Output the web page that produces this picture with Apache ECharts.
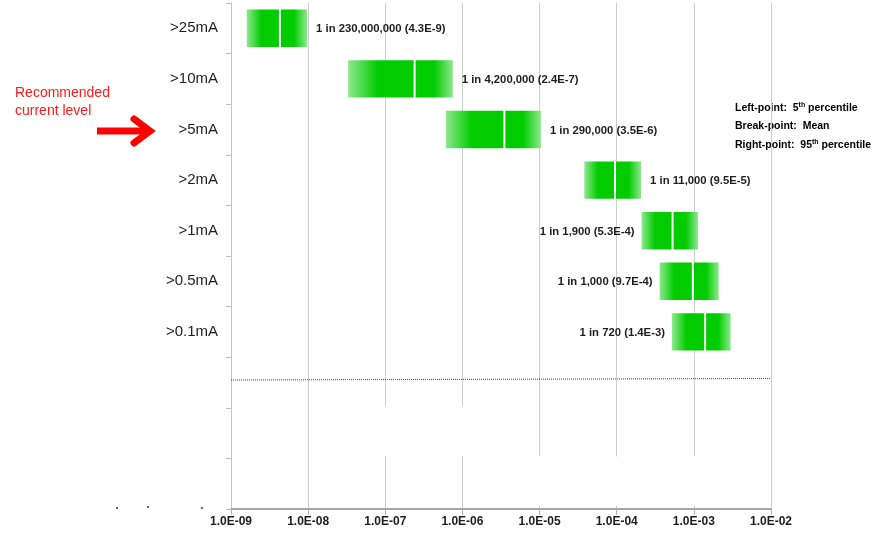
<!DOCTYPE html>
<html><head><meta charset="utf-8">
<script src="https://cdn.jsdelivr.net/npm/echarts@6/dist/echarts.min.js"></script>
<style>html,body{margin:0;padding:0;background:#fff}#c{width:875px;height:548px}</style>
</head><body><div id="c"></div>
<script>
// ---- data ----
const categories = ['>25mA', '>10mA', '>5mA', '>2mA', '>1mA', '>0.5mA', '>0.1mA', ' ', '  ', '   '];
const p5   = [1.6e-9, 3.3e-8, 6.1e-7, 3.8e-5, 2.1e-4, 3.6e-4, 5.2e-4];
const mean = [4.3e-9, 2.4e-7, 3.5e-6, 9.5e-5, 5.3e-4, 9.7e-4, 1.4e-3];
const p95  = [9.7e-9, 7.5e-7, 1.04e-5, 2.07e-4, 1.13e-3, 2.1e-3, 3.0e-3];
const barLabels = ['1 in 230,000,000 (4.3E-9)', '1 in 4,200,000 (2.4E-7)', '1 in 290,000 (3.5E-6)',
  '1 in 11,000 (9.5E-5)', '1 in 1,900 (5.3E-4)', '1 in 1,000 (9.7E-4)', '1 in 720 (1.4E-3)'];
const labelSide = ['right', 'right', 'right', 'right', 'left', 'left', 'left'];
const xTickLabels = ['1.0E-09', '1.0E-08', '1.0E-07', '1.0E-06', '1.0E-05', '1.0E-04', '1.0E-03', '1.0E-02'];
const xMin = 1e-9, xMax = 1e-2;
// hidden white blocks of the original (category, from, to)
const maskCat = [8, 9];
const maskFrom = [2e-8, 5e-6];
const maskTo = [5e-6, 5e-3];
// dotted reference line (category)
const refLineCat = [7];
const notes = [['Left-point:  5', 'th', ' percentile'], ['Break-point:  Mean', '', ''], ['Right-point:  95', 'th', ' percentile']];
const annotation = ['Recommended', 'current level'];

// ---- chart ----
const FONT_B = '"Liberation Sans", Arial, sans-serif';
const chart = echarts.init(document.getElementById('c'), null, {renderer: 'canvas'});

const barData = p5.map((v, i) => [i, v, mean[i], p95[i]]);
const maskData = maskCat.map((c, i) => [c, maskFrom[i], maskTo[i]]);

const LIGHT = '#8fe88f', SOLID = '#00cc00';
function renderBar(params, api) {
  const i = api.value(0);
  const a = api.coord([api.value(1), i]);
  const m = api.coord([api.value(2), i]);
  const b = api.coord([api.value(3), i]);
  const band = api.size([1, 1])[1];
  const h = band * 0.74;
  const y = a[1] - h / 2;
  const idx = params.dataIndex;
  const right = labelSide[idx] === 'right';
  return {type: 'group', children: [
    {type: 'rect', shape: {x: a[0], y: y, width: m[0] - a[0] - 1, height: h},
      style: {fill: {type: 'linear', x: 0, y: 0, x2: 1, y2: 0, colorStops: [
        {offset: 0, color: LIGHT}, {offset: 0.45, color: SOLID}, {offset: 1, color: SOLID}]}}},
    {type: 'rect', shape: {x: m[0] + 1, y: y, width: b[0] - m[0] - 1, height: h},
      style: {fill: {type: 'linear', x: 0, y: 0, x2: 1, y2: 0, colorStops: [
        {offset: 0, color: SOLID}, {offset: 0.5, color: SOLID}, {offset: 1, color: LIGHT}]}}},
    {type: 'text', style: {text: barLabels[idx], x: right ? b[0] + 9 : a[0] - 7, y: a[1] + 1,
      align: right ? 'left' : 'right', verticalAlign: 'middle',
      fontSize: 11.3, fontWeight: 'bold', fontFamily: FONT_B, fill: '#1e1e1e'}}
  ]};
}
function renderMask(params, api) {
  const c = api.value(0);
  const a = api.coord([api.value(1), c]);
  const b = api.coord([api.value(2), c]);
  const band = api.size([1, 1])[1];
  return {type: 'rect', shape: {x: a[0], y: a[1] - band / 2 - 2, width: b[0] - a[0], height: band - 1},
    style: {fill: '#ffffff'}};
}
function renderRef(params, api) {
  const c = api.value(0);
  const a = api.coord([xMin, c]);
  const b = api.coord([xMax, c]);
  return {type: 'line', shape: {x1: a[0], y1: a[1] - 2.5, x2: b[0], y2: b[1] - 4},
    style: {stroke: '#444', lineWidth: 1, lineDash: [1, 1]}};
}

const option = {
  animation: false,
  backgroundColor: '#ffffff',
  grid: {left: 231, right: 104, top: 3, bottom: 39, containLabel: false},
  xAxis: {
    type: 'log', logBase: 10, min: xMin, max: xMax, splitNumber: 7,
    axisLine: {show: true, lineStyle: {color: '#a6a6a6', width: 2}},
    axisTick: {show: true, length: 6, lineStyle: {color: '#b0b0b0'}},
    splitLine: {show: true, lineStyle: {color: '#cfcfcf', width: 1}},
    axisLabel: {
      margin: 7, fontSize: 12, fontWeight: 'bold', fontFamily: FONT_B, color: '#1e1e1e',
      formatter: v => xTickLabels[Math.round(Math.log10(v)) + 9] || ''
    }
  },
  yAxis: {
    type: 'category', data: categories, inverse: true,
    axisLine: {show: true, lineStyle: {color: '#c4c4c4', width: 1}},
    axisTick: {show: true, length: 5, lineStyle: {color: '#bdbdbd'}},
    splitLine: {show: false},
    axisLabel: {margin: 13, fontSize: 15, color: '#1e1e1e', fontFamily: FONT_B}
  },
  series: [
    {type: 'custom', name: 'mask', renderItem: renderMask, data: maskData, encode: {x: [1, 2], y: 0}, silent: true, z: 1},
    {type: 'custom', name: 'ref', renderItem: renderRef, data: refLineCat.map(c => [c]), encode: {y: 0}, silent: true, z: 1},
    {type: 'custom', name: 'risk', renderItem: renderBar, data: barData, encode: {x: [1, 2, 3], y: 0}, z: 3}
  ],
  graphic: [
    {type: 'text', left: 15, top: 84, style: {text: annotation.join('\n'), fill: '#ff1a1a', fontSize: 14, lineHeight: 18,
      fontFamily: FONT_B}},
    {type: 'polyline', shape: {points: [[97, 131], [146, 131]]}, style: {stroke: '#ff0000', lineWidth: 7, fill: null}},
    {type: 'polyline', shape: {points: [[134, 119], [150, 131], [134, 143]]}, style: {stroke: '#ff0000', lineWidth: 7, fill: null, lineJoin: 'miter', lineCap: 'round'}},
    {type: 'group', left: 735, top: 102, children: notes.map((n, k) => ({
      type: 'text', x: 0, y: k * 18.5,
      style: {
        text: '{a|' + n[0] + '}' + (n[1] ? '{s|' + n[1] + '}' : '') + (n[2] ? '{a|' + n[2] + '}' : ''),
        rich: {
          a: {fontSize: 10.5, fontWeight: 'bold', fontFamily: FONT_B, color: '#1e1e1e'},
          s: {fontSize: 7, fontWeight: 'bold', fontFamily: FONT_B, color: '#1e1e1e', verticalAlign: 'top', padding: [0, 0, 5, 0]}
        }
      }
    }))},
    {type: 'circle', shape: {cx: 117, cy: 508, r: 1}, style: {fill: '#333'}},
    {type: 'circle', shape: {cx: 148, cy: 507, r: 1}, style: {fill: '#333'}},
    {type: 'circle', shape: {cx: 202, cy: 508, r: 1}, style: {fill: '#333'}}
  ]
};
chart.setOption(option);
</script>
</body></html>
